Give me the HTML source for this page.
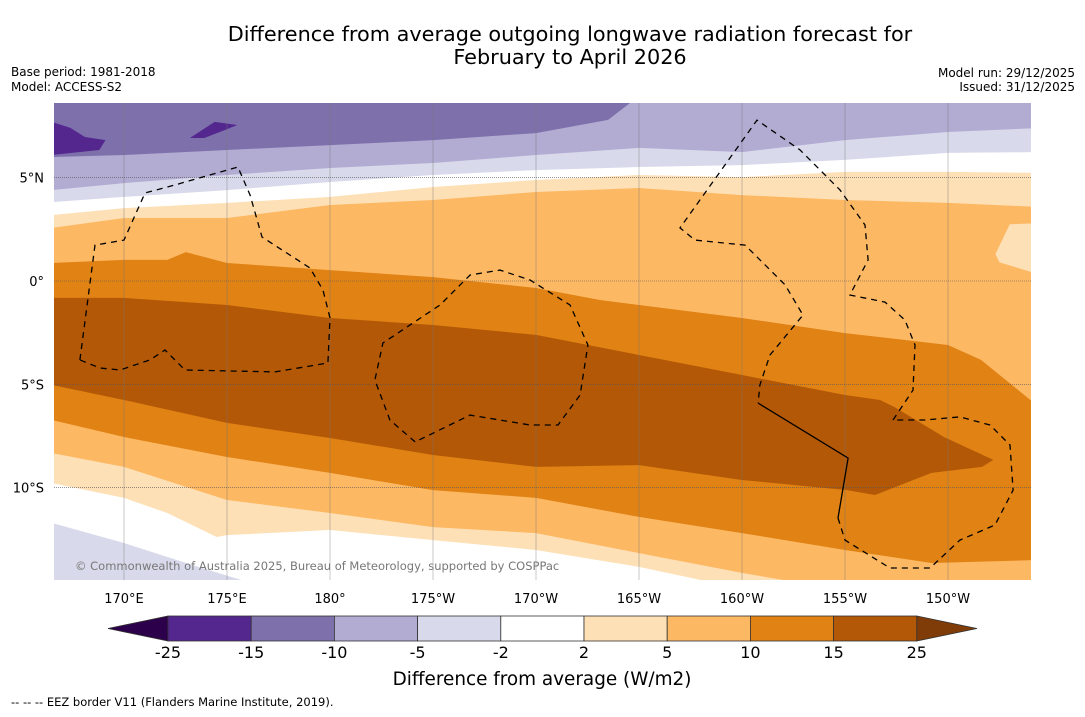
<!DOCTYPE html>
<html><head><meta charset="utf-8"><style>
body{margin:0;background:#fff;font-family:"DejaVu Sans",sans-serif;}
svg text{font-family:"DejaVu Sans","Liberation Sans",sans-serif;}
</style></head><body>
<svg id="chart" width="1085" height="713" viewBox="0 0 1085 713" xmlns="http://www.w3.org/2000/svg">
<text x="570" y="41" font-size="20.8" text-anchor="middle">Difference from average outgoing longwave radiation forecast for</text>
<text x="570" y="64" font-size="20.8" text-anchor="middle">February to April 2026</text>
<text x="11" y="76" font-size="12">Base period: 1981-2018</text>
<text x="11" y="91" font-size="12">Model: ACCESS-S2</text>
<text x="1075" y="77" font-size="12" text-anchor="end">Model run: 29/12/2025</text>
<text x="1075" y="91" font-size="12" text-anchor="end">Issued: 31/12/2025</text>
<defs><clipPath id="mapclip"><rect x="54" y="103" width="977" height="477"/></clipPath></defs>
<g id="map" clip-path="url(#mapclip)"></g>
<g id="axes"></g>
<g id="cbar"></g>
<text x="542" y="685" font-size="18.4" text-anchor="middle">Difference from average (W/m2)</text>
<text x="11" y="706" font-size="11.5">--  --  -- EEZ border V11 (Flanders Marine Institute, 2019).</text>
</svg>
<script>
// ---- data (lon degrees east 0-360, lat degrees) ----
const lonTicks = [170,175,180,185,190,195,200,205,210];
const lonTickLabels = ["170°E","175°E","180°","175°W","170°W","165°W","160°W","155°W","150°W"];
const latTicks = [5,0,-5,-10];
const latTickLabels = ["5°N","0°","5°S","10°S"];
const cbarLevels = ["-25","-15","-10","-5","-2","2","5","10","15","25"];
const cbarColors = ["#54278f","#7e70ab","#b2abd2","#d8daeb","#ffffff","#fee0b6","#fdb863","#e08214","#b35806"];
const cbarLow = "#2d004b", cbarHigh = "#7f3b08";
const bandLons = [166.5,170,175,180,185,190,195,200,205,210,214.5];
const topMidPurpleEdge = [[166.5,6.0],[170,6.1],[175,6.34],[180,6.58],[185,6.82],[190,7.16],[193.5,7.8],[194.8,8.8],[195.2,9.5],[214.5,9.5]];
const lightPurpleTopLat = [4.4,4.74,5.13,5.47,5.71,6.1,6.44,6.24,6.82,7.21,7.41];
const whiteTopLat = [3.82,4.07,4.4,4.79,5.13,5.37,5.52,5.61,5.86,6.2,6.24];
const creamTopLat = [3.19,3.53,3.78,4.07,4.55,4.89,5.13,5.03,5.28,5.28,5.23];
const lightOrangeTopLat = [2.57,3.05,3.05,3.68,3.92,4.31,4.5,4.16,3.92,3.78,3.58];
const creamPatchEast = [[214.5,2.8],[213,2.75],[212.3,1.3],[212.5,0.9],[214.5,0.3]];
const orangeTopEdge = [[166.5,0.87],[170,1.02],[172.1,1.02],[173,1.4],[175,0.87],[180,0.53],[185,0.19],[190,-0.34],[193.1,-0.92],[200,-1.79],[205,-2.52],[210,-3.1],[211.6,-3.82],[214,-5.76],[214.5,-6.2]];
const darkTopEdge = [[166.5,-0.82],[170,-0.82],[175,-1.16],[180,-1.79],[185,-2.13],[190,-2.61],[195,-3.58],[200,-4.55],[205,-5.52],[206.7,-5.76],[207.4,-6.1],[209.8,-7.55],[212.2,-8.66]];
const darkBottomEdge = [[166.5,-5.03],[170,-5.76],[175,-6.87],[180,-7.6],[185,-8.42],[190,-9.0],[195,-8.91],[200,-9.63],[205.1,-10.12],[206.45,-10.36],[209.2,-9.29],[211.65,-9.0],[212.2,-8.66]];
const orangeBottomEdge = [[166.5,-6.73],[170,-7.55],[175,-8.52],[180,-9.29],[185,-10.12],[190,-10.5],[195,-11.42],[200,-12.2],[205,-13.02],[209.2,-13.65],[214.5,-13.5]];
const lightOrangeBottomEdge = [[166.5,-8.33],[170,-9.0],[175,-10.6],[180,-11.23],[185,-11.91],[190,-12.2],[195,-13.17],[200,-14.13],[202,-14.47],[214.5,-15.5]];
const creamBottomEdge = [[166.5,-9.78],[170,-10.5],[172.1,-11.23],[174.5,-12.39],[175,-12.3],[180,-12.05],[185,-12.54],[190,-13.02],[195,-13.84],[198,-14.47],[200,-15.5]];
const lavenderSouthWest = [[166.5,-11.71],[170,-12.68],[173.6,-13.84],[175.7,-14.47],[175.7,-15.5],[166.5,-15.5]];
const darkBlobWest = [[166.5,7.7],[167.4,7.41],[168.1,6.97],[169.1,6.82],[168.8,6.34],[166.5,6.1]];
const darkBlobCentral = [[173.2,6.92],[174.4,7.7],[175.5,7.55],[174.9,7.31],[173.9,6.92]];
const eezGilbert = [[167.86,-3.82],[168.59,1.74],[170,1.98],[171.02,4.26],[172.48,4.65],[175.53,5.52],[176.12,4.16],[176.7,2.13],[179.03,0.63],[179.66,-0.44],[180,-1.79],[179.9,-3.97],[177.33,-4.4],[172.96,-4.31],[171.99,-3.34],[171.26,-3.82],[169.81,-4.31],[168.83,-4.21],[167.86,-3.82]];
const eezPhoenix = [[184.13,-7.79],[182.91,-6.73],[182.18,-4.79],[182.57,-3.0],[185.34,-1.16],[186.8,0.29],[188.25,0.53],[189.71,0.05],[191.65,-1.16],[192.52,-3.1],[192.14,-5.52],[191.07,-6.97],[189.71,-6.97],[186.8,-6.49],[184.13,-7.79]];
const eezLine = [[207.33,-6.73],[208.3,-5.28],[208.4,-3.1],[207.91,-1.89],[206.94,-1.02],[205.24,-0.68],[206.12,1.02],[205.97,2.71],[204.76,4.4],[202.82,6.34],[200.73,7.79],[196.99,2.57],[197.72,1.98],[200.15,1.74],[202.09,-0.19],[202.96,-1.65],[201.36,-3.58],[200.87,-5.03],[200.78,-5.91]];
const eezSolid = [[200.78,-5.91],[205.15,-8.57],[204.66,-11.47]];
const eezSouth = [[204.66,-11.47],[205.0,-12.54],[207.18,-13.89],[209.13,-13.89],[210.58,-12.54],[212.28,-11.81],[213.16,-10.12],[213.01,-7.94],[212.04,-6.97],[210.58,-6.58],[208.88,-6.73],[207.33,-6.73]];

// ---- axis functions ----
const X = lon => 124 + (lon - 170) * 20.6;
const Y = lat => 281 - lat * 20.66;
const NS = "http://www.w3.org/2000/svg";
const map = document.getElementById('map'), axes = document.getElementById('axes'), cbar = document.getElementById('cbar');
function mk(tag, attrs, parent){const e=document.createElementNS(NS,tag);for(const k in attrs)e.setAttribute(k,attrs[k]);parent.appendChild(e);return e;}
const pts = arr => arr.map(p => X(p[0]).toFixed(1)+','+Y(p[1]).toFixed(1));
const zip = lats => bandLons.map((l,i)=>[l,lats[i]]);
const BOT = -16;
function below(edge, color, name){
  const e = edge.concat([[edge[edge.length-1][0],BOT],[edge[0][0],BOT]]);
  const p = mk('polygon',{points:pts(e).join(' '),fill:color},map);
  
  
}
function poly(arr,color,name){
  const p = mk('polygon',{points:pts(arr).join(' '),fill:color},map);
  
  
}
let bg = mk('rect',{x:54,y:103,width:977,height:477,fill:cbarColors[1]},map);


poly(darkBlobWest, cbarColors[0], 'band-minus25-minus15-west');
poly(darkBlobCentral, cbarColors[0], 'band-minus25-minus15-central');
below(topMidPurpleEdge, cbarColors[2], 'band-minus10-minus5');
below(zip(lightPurpleTopLat), cbarColors[3], 'band-minus5-minus2');
below(zip(whiteTopLat), cbarColors[4], 'band-neutral');
below(zip(creamTopLat), cbarColors[5], 'band-2-5');
below(zip(lightOrangeTopLat), cbarColors[6], 'band-5-10');
poly(creamPatchEast, cbarColors[5], 'band-2-5-east');
below(orangeTopEdge, cbarColors[7], 'band-10-15');
poly(darkTopEdge.concat(darkBottomEdge.slice().reverse()), cbarColors[8], 'band-15-25');
below(orangeBottomEdge, cbarColors[6], 'band-5-10-south');
below(lightOrangeBottomEdge, cbarColors[5], 'band-2-5-south');
below(creamBottomEdge, cbarColors[4], 'band-neutral-south');
poly(lavenderSouthWest, cbarColors[3], 'band-minus5-minus2-south');
// gridlines
lonTicks.forEach(l=>{const g=mk('line',{x1:X(l),x2:X(l),y1:103,y2:580,stroke:'#777','stroke-width':0.4},map);
  
  });
latTicks.forEach(l=>{const g=mk('line',{x1:54,x2:1031,y1:Y(l),y2:Y(l),stroke:'#555','stroke-width':0.6,'stroke-dasharray':'1,1'},map);
  
  });
// EEZ
[[eezGilbert,true],[eezPhoenix,true],[eezLine,true],[eezSolid,false],[eezSouth,true]].forEach(([a,d])=>{
  const l=mk('polyline',{points:pts(a).join(' '),fill:'none',stroke:'#000','stroke-width':1.3},map);
  if(d) l.setAttribute('stroke-dasharray','6,5');
  
  
});
const cp = mk('text',{x:75,y:570,'font-size':11.5,fill:'#777'},map);
cp.textContent = '© Commonwealth of Australia 2025, Bureau of Meteorology, supported by COSPPac';


// axis labels
lonTicks.forEach((l,i)=>{const t=mk('text',{x:X(l),y:603,'font-size':13,'text-anchor':'middle'},axes);t.textContent=lonTickLabels[i];
  
  });
latTicks.forEach((l,i)=>{const t=mk('text',{x:44,y:Y(l)+5,'font-size':13,'text-anchor':'end'},axes);t.textContent=latTickLabels[i];
  
  });
// colorbar
const cx0=168, cw=83.2, cy=616, ch=25;
let tl=mk('polygon',{points:`108,${cy+ch/2} ${cx0},${cy} ${cx0},${cy+ch}`,fill:cbarLow,stroke:'#333','stroke-width':0.8},cbar);


cbarColors.forEach((c,i)=>{const r=mk('rect',{x:cx0+i*cw,y:cy,width:cw,height:ch,fill:c,stroke:'#333','stroke-width':0.8},cbar);
  
  });
const xe=cx0+cbarColors.length*cw;
let th=mk('polygon',{points:`${xe},${cy} 977,${cy+ch/2} ${xe},${cy+ch}`,fill:cbarHigh,stroke:'#333','stroke-width':0.8},cbar);


cbarLevels.forEach((s,i)=>{const t=mk('text',{x:cx0+i*cw,y:658,'font-size':16,'text-anchor':'middle'},cbar);t.textContent=s;
  
  });
</script>
</body></html>
